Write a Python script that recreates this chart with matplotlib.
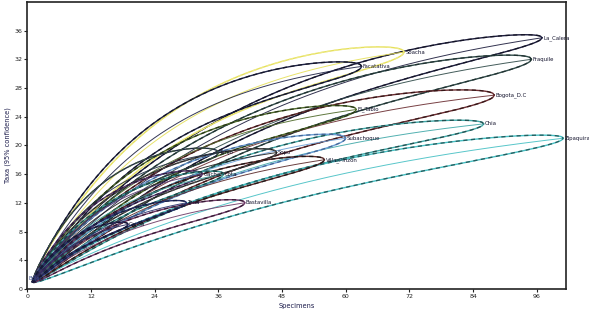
import numpy as np
import matplotlib.pyplot as plt

# rarefaction envelopes (95% confidence), one per locality
localities = ['La_Calera', 'Fraquile', 'Soacha', 'Facatativa', 'Bogota_D.C', 'El_Tabio',
              'Chia', 'Zipaquira', 'Subachoque', 'Sopo', 'Villa_Pinzon', 'Tenjo',
              'Gacha', 'Cota', 'Bastavilla', 'Tena', 'Cajica']
specimens = [97, 95, 71, 63, 88, 62, 86, 101, 60, 47, 56, 36, 33, 37, 41, 30, 19]
taxa = [35, 32, 33, 31, 27, 25, 23, 21, 21, 19, 18, 19, 16, 16, 12, 12, 9]
curvature = [2.0, 2.0, 2.5, 2.6, 2.2, 2.3, 2.0, 1.5, 2.0, 2.2, 1.8, 2.5, 2.2, 2.0, 1.6, 1.8, 1.8]
half_width = [2.2, 2.5, 2.5, 2.2, 2.5, 2.0, 2.0, 2.0, 2.0, 1.8, 1.8, 1.8, 1.5, 1.5, 1.5, 1.2, 1.0]

colours = ['#1c1c3c', '#2f4a48', '#e6e05a', '#1e2244', '#6a2c30', '#4f6a2a',
           '#3fa8a8', '#46c0c4', '#6c9fd6', '#202020', '#5a2a2a', '#1e2a40',
           '#5a3a70', '#3a9a98', '#6e3a66', '#28306a', '#2a2a5a']
overlay = ['#101020', '#1a2a2a', '#f0ec90', '#0f1020', '#2a1010', '#1c2a10',
           '#1a3a3a', '#1a4848', '#3a5a8a', '#555555', '#101010', '#405a40',
           '#201030', '#0f3030', '#2a1028', '#101838', '#101028']


def expected(n, N, S, k):
    t = (n - 1) / (N - 1)
    return 1 + (S - 1) * (1 - np.exp(-k * t)) / (1 - np.exp(-k))


fig = plt.figure(figsize=(5.89, 3.12), dpi=100)
ax = fig.add_axes([0.046, 0.074, 0.915, 0.92])

for i, name in enumerate(localities):
    N, S = specimens[i], taxa[i]
    n = np.linspace(1, N, 300)
    t = (n - 1) / (N - 1)
    mean = expected(n, N, S, curvature[i])
    h = half_width[i] * 2 * np.sqrt(t * (1 - t))
    ax.plot(n, mean, color=colours[i], lw=0.7, alpha=0.9)
    for y in (mean + h, mean - h):
        ax.plot(n, y, color=colours[i], lw=1.0, solid_capstyle='round')
        ax.plot(n, y, color=overlay[i], lw=1.0, dashes=(3, 2.5), alpha=0.8)
    ax.text(N + 0.2, S, name, fontsize=3.9, color='#14142e', ha='left', va='center',
            clip_on=False)

ax.text(0.3, 1.4, 'Bojaca', fontsize=3.9, color='#3a4a8a', ha='left', va='center')

ax.set_xlim(0, 101.5)
ax.set_ylim(0, 40)
ax.set_xticks(np.arange(0, 97, 12))
ax.set_yticks(np.arange(0, 37, 4))
ax.tick_params(labelsize=4.5, length=2, width=0.8, pad=1.5, colors='#222222')
for s in ax.spines.values():
    s.set_linewidth(1.2)
    s.set_color('#222222')
ax.set_xlabel('Specimens', fontsize=4.8, color='#1a1a4a', labelpad=3)
ax.set_ylabel('Taxa (95% confidence)', fontsize=4.8, color='#1a1a4a', labelpad=2.5)

fig.savefig('out.png', dpi=100)
